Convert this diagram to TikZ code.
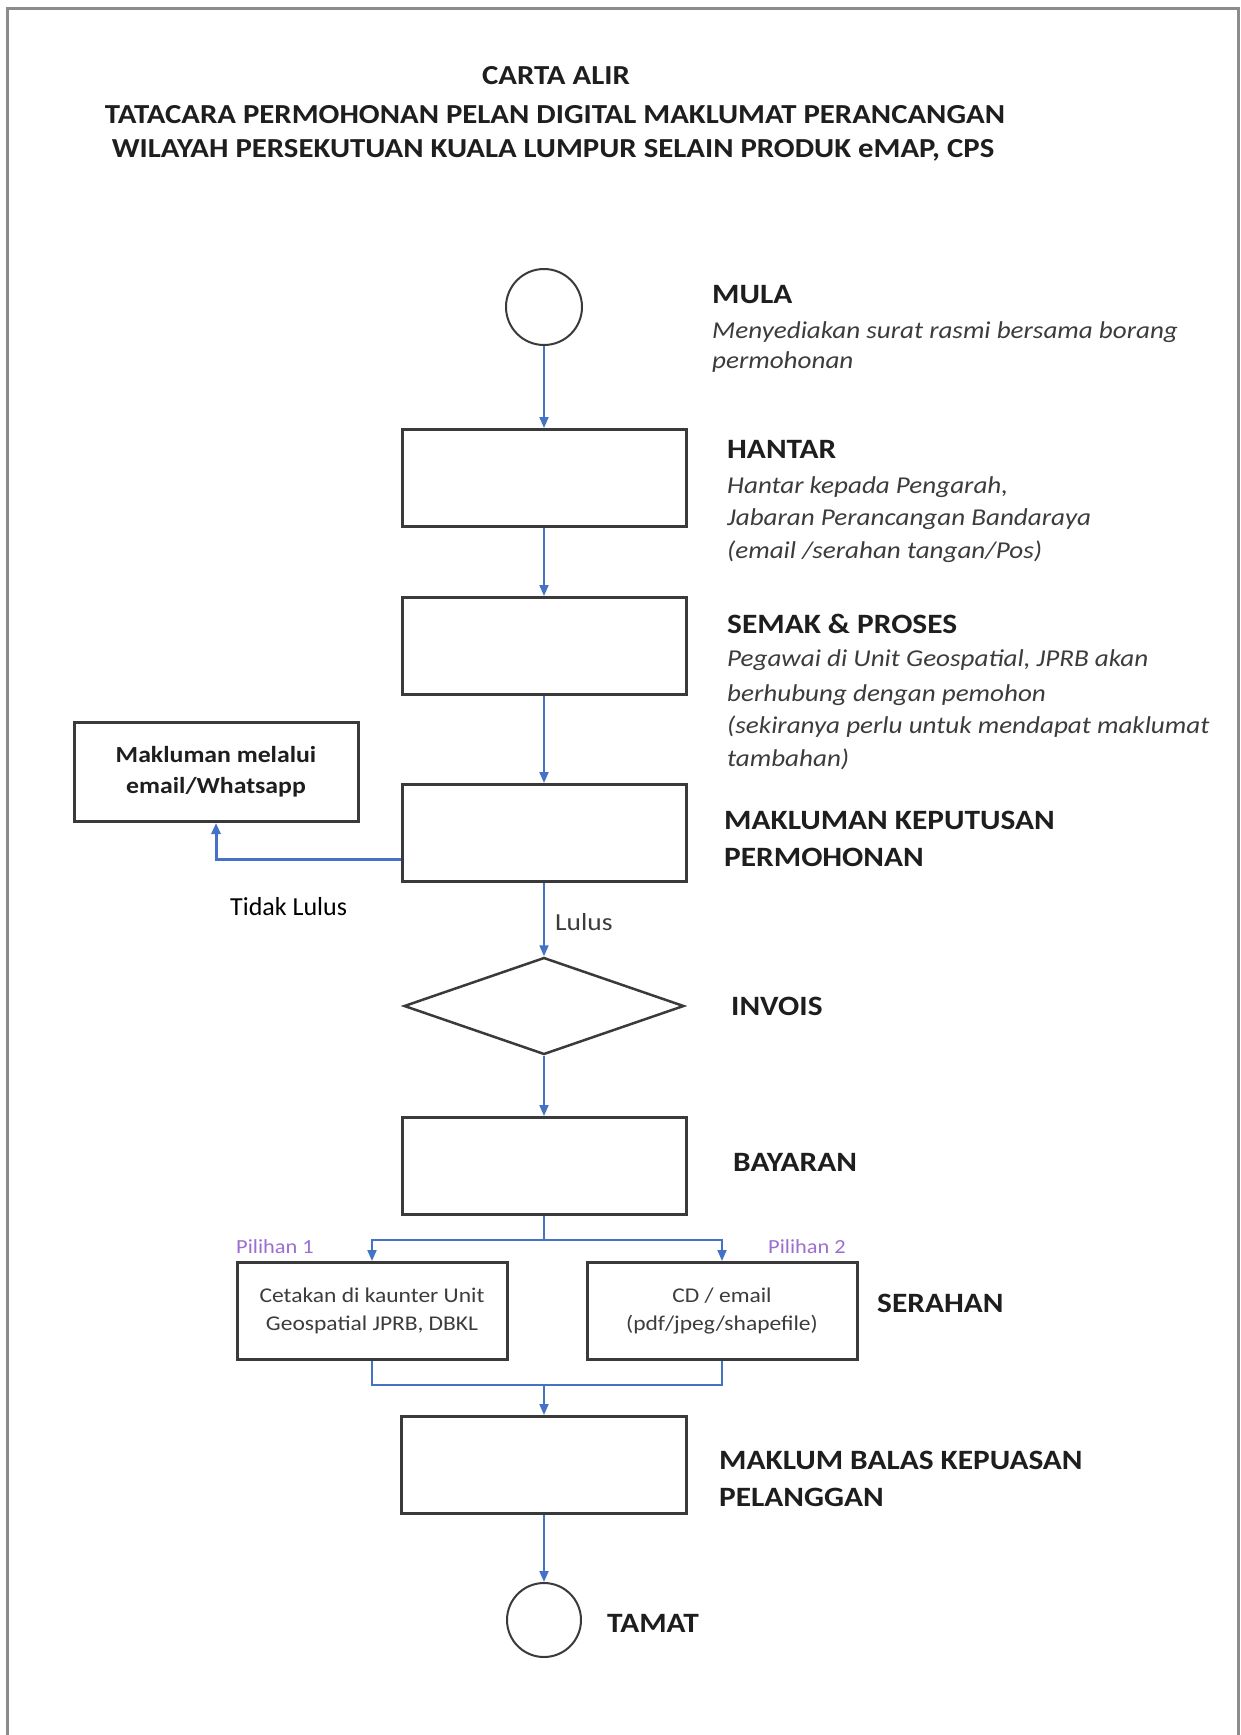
\documentclass[tikz,border=0pt]{standalone}
\usepackage{fontspec}
\setmainfont[FakeStretch=1.12]{Carlito}
\newfontfamily\plainfont{Carlito}
\usetikzlibrary{shapes.geometric,arrows.meta,calc}
\definecolor{flowblue}{HTML}{4472C4}
\definecolor{boxgray}{HTML}{3A3A3A}
\definecolor{framegray}{HTML}{8C8C8C}
\definecolor{labcol}{HTML}{1E1E1E}
\definecolor{desccol}{HTML}{3C3C3C}
\definecolor{optpurple}{HTML}{9B6FD0}
\tikzset{
  proc/.style={draw=boxgray, line width=3pt, minimum width=284pt, minimum height=97pt, inner sep=0pt},
  term/.style={circle, draw=boxgray, line width=2pt, minimum size=76pt, inner sep=0pt},
  arr/.style={draw=flowblue, line width=2pt, -{Triangle[length=11pt,width=9pt]}},
  plainline/.style={draw=flowblue, line width=2pt},
  lab/.style={anchor=base west, inner sep=0pt, font=\fontsize{28}{34}\selectfont\bfseries, text=labcol},
  desc/.style={anchor=base west, inner sep=0pt, font=\fontsize{24.2}{30}\selectfont\itshape, text=desccol},
  ttl/.style={anchor=base, inner sep=0pt, font=\fontsize{27.5}{33}\selectfont\bfseries, text=labcol},
  opt/.style={anchor=base west, inner sep=0pt, font=\fontsize{20}{24}\selectfont, text=optpurple},
}
\begin{document}
\begin{tikzpicture}[x=1pt,y=-1pt]
\useasboundingbox (0,0) rectangle (1241,1735);
\fill[white] (0,0) rectangle (1241,1735);
\draw[framegray, line width=3pt] (7,1745) -- (7,8) -- (1238,8) -- (1238,1745);

% title
\node[ttl] (t1) at (556,84) {CARTA ALIR};
\node[ttl] (t2) at (555,123) {TATACARA PERMOHONAN PELAN DIGITAL MAKLUMAT PERANCANGAN};
\node[ttl] (t3) at (553,157) {WILAYAH PERSEKUTUAN KUALA LUMPUR SELAIN PRODUK eMAP, CPS};

% shapes
\node[term] (start) at (544,307) {};
\node[proc] (hantar) at (544,478) {};
\node[proc] (semak) at (544,646) {};
\node[proc] (makluman) at (544,833) {};
\node[proc, minimum width=284pt, minimum height=99pt, align=center,
      font=\fontsize{23}{31}\selectfont\bfseries, text=labcol] (leftbox) at (216,772)
      {Makluman melalui\\email/Whatsapp};
\node[diamond, draw=boxgray, line width=2.5pt, minimum width=280pt, minimum height=97pt, inner sep=0pt] (invois) at (544,1006) {};
\node[proc] (bayaran) at (544,1166) {};
\node[proc, minimum width=270pt, align=center, font=\fontsize{21}{28}\selectfont, text=desccol] (opt1) at (372,1311)
      {Cetakan di kaunter Unit\\Geospatial JPRB, DBKL};
\node[proc, minimum width=270pt, align=center, font=\fontsize{21}{28}\selectfont, text=desccol] (opt2) at (722,1311)
      {CD / email\\(pdf/jpeg/shapefile)};
\node[proc, minimum width=285pt] (final) at (544,1465) {};
\node[term, minimum size=74pt] (end) at (544,1620) {};

% labels
\node[lab] (lmula) at (712,303) {MULA};
\node[desc] (dmula1) at (712,338) {Menyediakan surat rasmi bersama borang};
\node[desc] (dmula2) at (712,368) {permohonan};

\node[lab] (lhantar) at (727,458) {HANTAR};
\node[desc] (dh1) at (727,493) {Hantar kepada Pengarah,};
\node[desc] (dh2) at (727,525) {Jabaran Perancangan Bandaraya};
\node[desc] (dh3) at (727,558) {(email /serahan tangan/Pos)};

\node[lab] (lsemak) at (727,633) {SEMAK \& PROSES};
\node[desc] (ds1) at (727,666) {Pegawai di Unit Geospatial, JPRB akan};
\node[desc] (ds2) at (727,701) {berhubung dengan pemohon};
\node[desc] (ds3) at (727,733) {(sekiranya perlu untuk mendapat maklumat};
\node[desc] (ds4) at (727,766) {tambahan)};

\node[lab] (lmak1) at (724,829) {MAKLUMAN KEPUTUSAN};
\node[lab] (lmak2) at (724,866) {PERMOHONAN};

\node[lab] (linv) at (731,1015) {INVOIS};
\node[lab] (lbay) at (733,1171) {BAYARAN};
\node[lab] (lser) at (877,1312) {SERAHAN};
\node[lab] (lmb1) at (719,1469) {MAKLUM BALAS KEPUASAN};
\node[lab] (lmb2) at (719,1506) {PELANGGAN};
\node[lab] (ltam) at (607,1632) {TAMAT};

\node[anchor=base west, inner sep=0pt, font=\plainfont\fontsize{26}{30}\selectfont, text=black] (tidak) at (230,915) {Tidak Lulus};
\node[anchor=base west, inner sep=0pt, font=\fontsize{24.5}{30}\selectfont, text=desccol] (lulus) at (555,930) {Lulus};
\node[opt] (p1) at (236,1253) {Pilihan 1};
\node[opt] (p2) at (768,1253) {Pilihan 2};

% connectors
\draw[arr] (start.south) -- (hantar.north);
\draw[arr] (hantar.south) -- (semak.north);
\draw[arr] (semak.south) -- (makluman.north);
\coordinate (tl) at ($(makluman.north west)!0.76!(makluman.south west)$);
\draw[arr, line width=3pt] (tl) -| (leftbox.south);
\draw[arr] (makluman.south) -- (invois.north);
\draw[arr] (invois.south) -- (bayaran.north);
\coordinate (split) at (544,1240);
\draw[plainline] (bayaran.south) -- (split);
\draw[arr] (split) -| (opt1.north);
\draw[arr] (split) -| (opt2.north);
\coordinate (merge) at (544,1385);
\draw[plainline] (opt1.south) |- (merge) -| (opt2.south);
\draw[arr] (merge) -- (final.north);
\draw[arr] (final.south) -- (end.north);
\end{tikzpicture}
\end{document}
